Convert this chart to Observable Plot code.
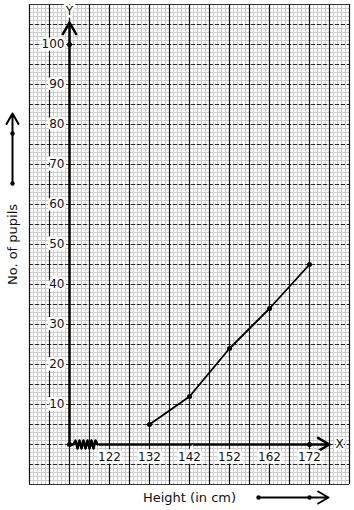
<!DOCTYPE html>
<html>
<head>
<meta charset="utf-8">
<script src="https://cdn.jsdelivr.net/npm/d3@7"></script>
<script src="https://cdn.jsdelivr.net/npm/@observablehq/plot@0.6"></script>
<style>
  html, body { margin: 0; padding: 0; background: #fff; }
  #chart svg { display: block; }
</style>
</head>
<body>
<div id="chart"></div>
<script>
// Data
const heights = [132, 142, 152, 162, 172];
const pupils = [5, 12, 24, 34, 45];
const xTicks = [122, 132, 142, 152, 162, 172];
const yTicks = [10, 20, 30, 40, 50, 60, 70, 80, 90, 100];
const xOrigin = 112;          // origin of the broken x axis
const axisDots = [{x: 112, y: 0}, {x: 112, y: 100}, {x: 172, y: 0}];
const xTitle = "Height (in cm)";
const yTitle = "No. of pupils";

// Graph-paper extents (in data units)
const gx = [102, 182];
const gy = [-10, 110];

const pts = heights.map((h, i) => ({h, p: pupils[i]}));
const minorX = d3.range(gx[0], gx[1] + 1, 1);
const minorY = d3.range(gy[0], gy[1] + 1, 1);
const majorX = d3.range(gx[0], gx[1] + 1, 5);
const majorY = d3.range(gy[0], gy[1] + 1, 5);

// zigzag break on the x axis
const zig = d3.range(0, 13).map(i => ({x: 113 + i * 0.5, y: i === 0 || i === 12 ? 0 : (i % 2 ? 1 : -1)}));

const font = "'DejaVu Sans', sans-serif";

const plot = Plot.plot({
  width: 354,
  height: 510,
  marginTop: 0, marginRight: 0, marginBottom: 0, marginLeft: 0,
  x: {domain: [94.75, 183.25], axis: null},
  y: {domain: [-16.5, 111], axis: null},
  style: {fontFamily: font, background: "#fff"},
  marks: [
    // minor grid
    Plot.ruleX(minorX, {x: d => d, y1: gy[0], y2: gy[1], stroke: "#cdcdcd", strokeWidth: 1}),
    Plot.ruleY(minorY, {y: d => d, x1: gx[0], x2: gx[1], stroke: "#cdcdcd", strokeWidth: 1}),
    // major grid
    Plot.ruleY(majorY, {y: d => d, x1: gx[0], x2: gx[1], stroke: "#2a2a2a", strokeWidth: 1, strokeDasharray: "4,2"}),
    Plot.ruleX(majorX, {x: d => d, y1: gy[0], y2: gy[1], stroke: "#111", strokeWidth: 1.2}),
    Plot.ruleY([gy[0], gy[1]], {x1: gx[0], x2: gx[1], stroke: "#333", strokeWidth: 1}),
    // y axis with arrow
    Plot.arrow([0], {x1: xOrigin, y1: 0, x2: xOrigin, y2: 105.5, stroke: "black", strokeWidth: 2.5, headLength: 8, headAngle: 60}),
    // x axis with arrow
    Plot.arrow([0], {x1: 119.5, y1: 0, x2: 177, y2: 0, stroke: "black", strokeWidth: 2.5, headLength: 8, headAngle: 60}),
    Plot.ruleY([0], {x1: xOrigin, x2: 113, stroke: "black", strokeWidth: 2.5}),
    Plot.line(zig, {x: "x", y: "y", stroke: "black", strokeWidth: 2.5, curve: "linear"}),
    // tick labels
    Plot.text(yTicks, {x: xOrigin, y: d => d, text: d => String(d), dx: -5, textAnchor: "end", fontSize: 12, fill: "#111", stroke: "white", strokeWidth: 5, strokeLinejoin: "miter"}),
    Plot.text(xTicks, {x: d => d, y: 0, text: d => String(d), dy: 13, fontSize: 12, fill: "#111", stroke: "white", strokeWidth: 5, strokeLinejoin: "miter"}),
    Plot.text(["Y"], {x: xOrigin, y: 108.25, text: d => d, fontSize: 12, fill: "#111", stroke: "white", strokeWidth: 5}),
    Plot.text(["X"], {x: 177, y: 0, text: d => d, dx: 10, fontSize: 12, fill: "#111", stroke: "white", strokeWidth: 4}),
    // axis dots
    Plot.dot(axisDots, {x: "x", y: "y", r: 2.5, fill: "black"}),
    // data
    Plot.line(pts, {x: "h", y: "p", stroke: "black", strokeWidth: 1.8}),
    Plot.dot(pts, {x: "h", y: "p", r: 2.5, fill: "black"}),
    // axis titles & decorative arrows
    Plot.text([xTitle], {x: 142, y: -13.25, text: d => d, fontSize: 13, fill: "#111"}),
    Plot.arrow([0], {x1: 159.25, y1: -13.25, x2: 176.75, y2: -13.25, stroke: "black", strokeWidth: 2, headLength: 9, headAngle: 60}),
    Plot.dot([159.25, 172], {x: d => d, y: -13.25, r: 2.2, fill: "black"}),
    Plot.text([yTitle], {x: 97.75, y: 50, text: d => d, rotate: -90, fontSize: 13, fill: "#111"}),
    Plot.arrow([0], {x1: 97.75, y1: 65.25, x2: 97.75, y2: 82.75, stroke: "black", strokeWidth: 2, headLength: 9, headAngle: 60}),
    Plot.dot([65.25, 77.75], {x: 97.75, y: d => d, r: 2.2, fill: "black"})
  ]
});
document.getElementById("chart").appendChild(plot);
</script>
</body>
</html>
